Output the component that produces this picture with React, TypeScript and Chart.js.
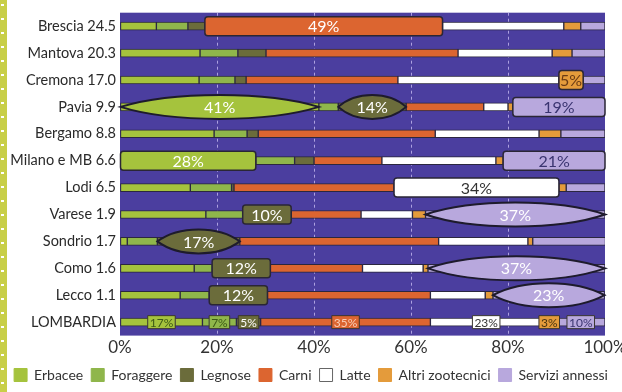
import React, { useEffect, useRef } from 'react';
import { Chart, registerables } from 'chart.js';

Chart.register(...registerables);

const provinces = [
  'Brescia 24.5', 'Mantova 20.3', 'Cremona 17.0', 'Pavia 9.9', 'Bergamo 8.8', 'Milano e MB 6.6',
  'Lodi 6.5', 'Varese 1.9', 'Sondrio 1.7', 'Como 1.6', 'Lecco 1.1', 'LOMBARDIA',
];

const erbacee = [7.5, 16.5, 16.3, 41, 19.4, 28, 14.5, 17.7, 1.5, 15.3, 12.4, 17];
const foraggere = [6.5, 7.8, 7.4, 4, 6.8, 8, 8.5, 7.6, 6.2, 3.7, 6, 7];
const legnose = [3.5, 5.8, 2.3, 14, 2.3, 4, 0.5, 10, 17, 12, 12, 5];
const carni = [49, 39.6, 31.3, 16, 36.5, 14, 33, 14.4, 41, 19, 33.6, 35];
const latte = [25, 19.4, 33.2, 5, 21.4, 23.5, 34, 10.6, 18.4, 12.5, 11.3, 23];
const altriZootecnici = [3.5, 4.1, 5, 1, 4.5, 1.5, 1.5, 2.7, 1, 1, 1.6, 3];
const serviziAnnessi = [5, 6.8, 4.5, 19, 9.1, 21, 8, 37, 15, 36.5, 23, 10];

const seriesNames = ['Erbacee', 'Foraggere', 'Legnose', 'Carni', 'Latte', 'Altri zootecnici', 'Servizi annessi'];
const seriesValues = [erbacee, foraggere, legnose, carni, latte, altriZootecnici, serviziAnnessi];
const seriesColors = ['#a5c33d', '#8fb64b', '#6b6c3b', '#dc6530', '#ffffff', '#e49b3b', '#b8a8dd'];

const xTickValues = [0, 20, 40, 60, 80, 100];

// highlighted segments: [row, series, shape, text colour]
const highlights: Array<[number, number, 'rect' | 'lens', string]> = [
  [0, 3, 'rect', '#ffffff'],
  [2, 5, 'rect', '#6a3b14'],
  [3, 0, 'lens', '#ffffff'],
  [3, 2, 'lens', '#ffffff'],
  [3, 6, 'rect', '#3a3470'],
  [5, 0, 'rect', '#ffffff'],
  [5, 6, 'rect', '#3a3470'],
  [6, 4, 'rect', '#333333'],
  [7, 2, 'rect', '#ffffff'],
  [7, 6, 'lens', '#ffffff'],
  [8, 2, 'lens', '#ffffff'],
  [9, 2, 'rect', '#ffffff'],
  [9, 6, 'lens', '#ffffff'],
  [10, 2, 'rect', '#ffffff'],
  [10, 6, 'lens', '#ffffff'],
];
const tagRow = 11;
const tagTextColors = ['#3d5a16', '#3d5a16', '#ffffff', '#f8cdb5', '#333333', '#4a3510', '#3a3470'];

const FONT = 'Lato, "Open Sans", sans-serif';

const plotBackground = {
  id: 'plotBackground',
  beforeDraw(chart: any) {
    const { ctx, chartArea: a } = chart;
    ctx.save();
    ctx.fillStyle = '#4b3e9f';
    ctx.fillRect(a.left, a.top, a.right - a.left, a.bottom - a.top);
    ctx.restore();
  },
};

const highlightPlugin = {
  id: 'highlightPlugin',
  afterDatasetsDraw(chart: any) {
    const ctx = chart.ctx;
    ctx.save();
    for (const [row, series, shape, textColor] of highlights) {
      const el: any = chart.getDatasetMeta(series).data[row];
      if (!el) continue;
      const x0 = Math.min(el.base, el.x);
      const x1 = Math.max(el.base, el.x);
      const y = el.y;
      const w = x1 - x0;
      const cx = (x0 + x1) / 2;
      ctx.beginPath();
      if (shape === 'lens') {
        const ry = 12;
        const c = ry / 0.75;
        const k = w * 0.26;
        ctx.moveTo(x0, y);
        ctx.bezierCurveTo(x0 + k, y - c, x1 - k, y - c, x1, y);
        ctx.bezierCurveTo(x1 - k, y + c, x0 + k, y + c, x0, y);
        ctx.closePath();
        ctx.fillStyle = seriesColors[series];
        ctx.fill();
        ctx.lineWidth = 2;
        ctx.strokeStyle = '#1e1b2c';
        ctx.stroke();
      } else {
        ctx.roundRect(x0, y - 9.5, w, 19, 3);
        ctx.fillStyle = seriesColors[series];
        ctx.fill();
        ctx.lineWidth = 1.5;
        ctx.strokeStyle = '#2a2636';
        ctx.stroke();
      }
      ctx.fillStyle = textColor;
      ctx.font = `16px ${FONT}`;
      ctx.textAlign = 'center';
      ctx.textBaseline = 'middle';
      ctx.fillText(Math.round(seriesValues[series][row]) + '%', cx, y + 1);
    }
    // small tags on the regional total row
    ctx.font = `12px ${FONT}`;
    seriesValues.forEach((vals, series) => {
      const el: any = chart.getDatasetMeta(series).data[tagRow];
      if (!el) return;
      const cx = (el.base + el.x) / 2;
      const y = el.y;
      const txt = Math.round(vals[tagRow]) + '%';
      const tw = ctx.measureText(txt).width + 4;
      ctx.beginPath();
      ctx.rect(cx - tw / 2, y - 6.5, tw, 13);
      ctx.fillStyle = seriesColors[series];
      ctx.fill();
      ctx.lineWidth = 1;
      ctx.strokeStyle = '#3a3630';
      ctx.stroke();
      ctx.fillStyle = tagTextColors[series];
      ctx.textAlign = 'center';
      ctx.textBaseline = 'middle';
      ctx.fillText(txt, cx, y + 0.5);
    });
    ctx.restore();
  },
};

export default function App() {
  const canvasRef = useRef<HTMLCanvasElement | null>(null);

  useEffect(() => {
    if (!canvasRef.current) return;
    const chart = new Chart(canvasRef.current, {
      type: 'bar',
      data: {
        labels: provinces,
        datasets: seriesNames.map((name, i) => ({
          label: name,
          data: seriesValues[i],
          backgroundColor: seriesColors[i],
          borderColor: '#2b2740',
          borderWidth: 1,
          barThickness: 8,
          borderSkipped: false,
        })),
      },
      options: {
        indexAxis: 'y',
        animation: false,
        responsive: false,
        layout: { padding: { top: 8, right: 0, bottom: 0, left: 0 } },
        plugins: {
          tooltip: { enabled: false },
          legend: {
            position: 'bottom',
            labels: {
              boxWidth: 13,
              boxHeight: 13,
              padding: 8,
              color: '#333333',
              font: { family: FONT, size: 14 },
              generateLabels: (chart: any) =>
                chart.data.datasets.map((ds: any, i: number) => ({
                  text: ds.label,
                  fillStyle: seriesColors[i],
                  strokeStyle: i === 4 ? '#666666' : seriesColors[i],
                  lineWidth: 1,
                  hidden: false,
                  datasetIndex: i,
                  fontColor: '#333333',
                })),
            },
          },
        },
        scales: {
          x: {
            stacked: true,
            min: 0,
            max: 100,
            afterBuildTicks: (scale: any) => {
              scale.ticks = xTickValues.map((v) => ({ value: v }));
            },
            afterFit: (scale: any) => {
              scale.paddingRight = 17;
              scale.paddingLeft = 0;
            },
            ticks: {
              color: '#333333',
              font: { family: FONT, size: 17 },
              padding: 2,
              callback: (v: any) => v + '%',
            },
            grid: {
              drawTicks: false,
              lineWidth: 1,
              color: (c: any) => (c.tick && (c.tick.value === 0 || c.tick.value === 100) ? 'rgba(0,0,0,0)' : 'rgba(205,195,245,0.75)'),
            },
            border: { display: false, dash: [3, 3] },
          },
          y: {
            stacked: true,
            afterFit: (scale: any) => {
              scale.width = 120;
            },
            ticks: {
              color: '#2a2a2a',
              font: { family: FONT, size: 14.5 },
              padding: 4,
            },
            grid: { display: false, drawTicks: false },
            border: { display: false },
          },
        },
      },
      plugins: [plotBackground, highlightPlugin],
    } as any);
    return () => chart.destroy();
  }, []);

  return (
    <div style={{ position: 'fixed', left: 0, top: 0, width: 622, height: 392, background: '#ffffff' }}>
      <canvas ref={canvasRef} width={622} height={392} style={{ display: 'block' }} />
      <div
        style={{
          position: 'absolute',
          left: 0,
          top: 0,
          width: 7,
          height: 392,
          background: '#c8cf48',
        }}
      >
        <div
          style={{
            position: 'absolute',
            left: 1,
            top: 4,
            width: 3,
            height: 388,
            background: 'repeating-linear-gradient(to bottom, #ffffff 0px, #ffffff 2px, transparent 2px, transparent 14px)',
          }}
        />
      </div>
    </div>
  );
}
